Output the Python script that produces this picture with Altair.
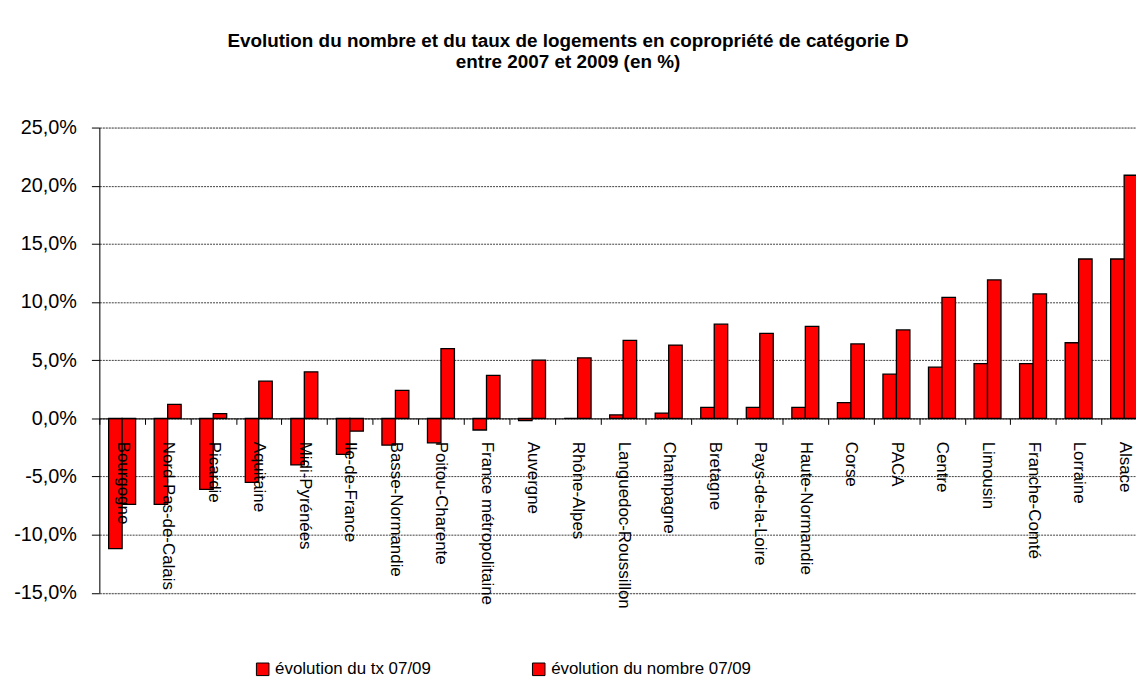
import altair as alt
import pandas as pd

categories = [
    "Bourgogne", "Nord-Pas-de-Calais", "Picardie", "Aquitaine", "Midi-Pyrénées",
    "Ile-de-France", "Basse-Normandie", "Poitou-Charente", "France métropolitaine",
    "Auvergne", "Rhône-Alpes", "Languedoc-Roussillon", "Champagne", "Bretagne",
    "Pays-de-la-Loire", "Haute-Normandie", "Corse", "PACA", "Centre", "Limousin",
    "Franche-Comté", "Lorraine", "Alsace",
]
tx_values = [
    -11.2, -7.4, -6.1, -5.5, -4.0, -3.1, -2.3, -2.1, -1.0, -0.2, 0.0, 0.3,
    0.45, 0.95, 0.95, 0.95, 1.35, 3.8, 4.4, 4.7, 4.7, 6.5, 13.7,
]
nombre_values = [
    -7.4, 1.2, 0.4, 3.2, 4.0, -1.1, 2.4, 6.0, 3.7, 5.0, 5.2, 6.7,
    6.3, 8.1, 7.3, 7.9, 6.4, 7.6, 10.4, 11.9, 10.7, 13.7, 20.9,
]
series_names = ["évolution du tx 07/09", "évolution du nombre 07/09"]
y_ticks = [-15, -10, -5, 0, 5, 10, 15, 20, 25]
title_lines = [
    "Evolution du nombre et du taux de logements en copropriété de catégorie D",
    "entre 2007 et 2009 (en %)",
]

rows = []
for c, a, b in zip(categories, tx_values, nombre_values):
    rows.append({"region": c, "serie": series_names[0], "valeur": a})
    rows.append({"region": c, "serie": series_names[1], "valeur": b})
df = pd.DataFrame(rows)

FONT = "Liberation Sans"
PLOT_W = 1044
PLOT_H = 468.6
Y_MIN, Y_MAX = y_ticks[0], y_ticks[-1]
zero_offset = -PLOT_H * (0 - Y_MIN) / (Y_MAX - Y_MIN)

label_expr = "(datum.value < 0 ? '-' : '') + replace(format(abs(datum.value), '.1f'), '.', ',') + '%'"

chart = alt.Chart(df).mark_bar(stroke="black", strokeWidth=1.3).encode(
    x=alt.X(
        "region:N",
        sort=categories,
        scale=alt.Scale(range=[0, 1055], paddingInner=0, paddingOuter=0),
        axis=alt.Axis(
            title=None, orient="bottom", offset=zero_offset, labelAngle=90,
            labelFont=FONT, labelFontSize=17, labelColor="black", labelPadding=17,
            labelOverlap=False, labelBound=False, labelLimit=400,
            tickBand="extent", tickSize=6, tickColor="black", tickWidth=1,
            domainColor="black", domainWidth=1, grid=False, zindex=1,
        ),
    ),
    xOffset=alt.XOffset(
        "serie:N", sort=series_names,
        scale=alt.Scale(domain=series_names, paddingInner=0, paddingOuter=0.69),
    ),
    y=alt.Y(
        "valeur:Q",
        scale=alt.Scale(domain=[Y_MIN, Y_MAX], nice=False),
        axis=alt.Axis(
            title=None, values=y_ticks, labelExpr=label_expr,
            labelFont=FONT, labelFontSize=20, labelColor="black", labelPadding=15,
            tickSize=8, tickColor="black", domainColor="black",
            grid=True, gridColor="#404040", gridDash=[2, 1], gridWidth=1,
        ),
    ),
    color=alt.Color(
        "serie:N", sort=series_names,
        scale=alt.Scale(domain=series_names, range=["#FF0000", "#FF0000"]),
        legend=alt.Legend(
            title=None, orient="none", legendX=156, legendY=537,
            direction="horizontal", symbolType="square", symbolSize=160,
            symbolStrokeColor="black", symbolStrokeWidth=1, symbolFillColor="#FF0000",
            labelFont=FONT, labelFontSize=17, labelColor="black", labelLimit=400,
            columnPadding=100,
        ),
    ),
).properties(
    width=PLOT_W,
    height=PLOT_H,
    title=alt.TitleParams(
        title_lines, font=FONT, fontSize=19, fontWeight="bold", color="black",
        anchor="middle", dx=-50, offset=46, lineHeight=21,
    ),
    autosize=alt.AutoSizeParams(type="none"),
    padding={"left": 92, "top": 118, "right": 0, "bottom": 92},
).configure_view(stroke=None).configure(background="white")

chart.save("out.html", embed_options={"renderer": "svg", "actions": False})
